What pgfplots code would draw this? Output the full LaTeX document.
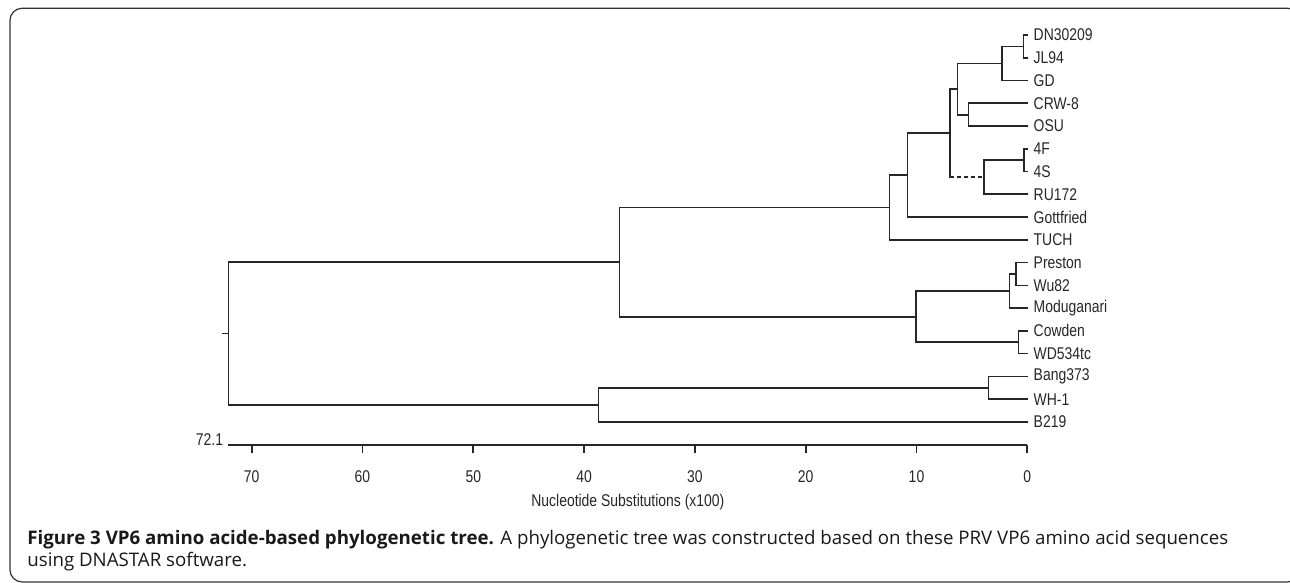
\documentclass[border=0pt]{standalone}
\usepackage{fontspec}
\usepackage{pgfplots}
\pgfplotsset{compat=1.18}
\setmainfont{Open Sans}
\newfontfamily\narrow[FakeStretch=0.82]{Liberation Sans}
\newcommand\nf{\narrow\fontsize{8.5}{9}\selectfont}
\pgfplotsset{tree/.style={black!85, line width=0.85pt, mark=none, line join=miter, line cap=rect}}
\begin{document}
\begin{tikzpicture}
\begin{axis}[
  x=5.54pt, y=11.38pt,
  x dir=reverse,
  xmin=0, xmax=72.1, ymin=-19, ymax=-1,
  axis x line=bottom, axis y line=none,
  x axis line style={-, black!85, line width=0.85pt},
  xtick={0,10,...,70},
  major tick length=4.35pt,
  tick align=outside,
  tick style={black!85, line width=0.85pt},
  xticklabel style={font=\nf, anchor=base, yshift=-14.5pt, black!85},
  /pgf/number format/assume math mode=true,
  clip=false,
]
% leaf pairs and internal nodes
\addplot[tree] coordinates {(0,-1) (0.35,-1) (0.35,-2) (0,-2)};
\addplot[tree] coordinates {(0.35,-1.5) (2.3,-1.5) (2.3,-3) (0,-3)};
\addplot[tree] coordinates {(0,-4) (5.3,-4) (5.3,-5) (0,-5)};
\addplot[tree] coordinates {(2.3,-2.25) (6.3,-2.25) (6.3,-4.5) (5.3,-4.5)};
\addplot[tree] coordinates {(0,-6) (0.3,-6) (0.3,-7) (0,-7)};
\addplot[tree] coordinates {(0.3,-6.5) (3.9,-6.5) (3.9,-8) (0,-8)};
\addplot[tree] coordinates {(6.3,-3.375) (7.0,-3.375) (7.0,-7.25)};
\addplot[tree, line cap=butt, dash pattern=on 2pt off 1.5pt] coordinates {(7.0,-7.25) (3.9,-7.25)};
\addplot[tree] coordinates {(7.0,-5.3125) (10.8,-5.3125) (10.8,-9) (0,-9)};
\addplot[tree] coordinates {(10.8,-7.156) (12.45,-7.156) (12.45,-10) (0,-10)};
\addplot[tree] coordinates {(0,-11) (1.0,-11) (1.0,-12) (0,-12)};
\addplot[tree] coordinates {(1.0,-11.5) (1.6,-11.5) (1.6,-13) (0,-13)};
\addplot[tree] coordinates {(0,-14) (0.8,-14) (0.8,-15) (0,-15)};
\addplot[tree] coordinates {(1.6,-12.25) (10.05,-12.25) (10.05,-14.5) (0.8,-14.5)};
\addplot[tree] coordinates {(12.45,-8.578) (36.8,-8.578) (36.8,-13.375) (10.05,-13.375)};
\addplot[tree] coordinates {(0,-16) (3.5,-16) (3.5,-17) (0,-17)};
\addplot[tree] coordinates {(3.5,-16.5) (38.7,-16.5) (38.7,-18) (0,-18)};
\addplot[tree] coordinates {(36.8,-10.977) (72.1,-10.977) (72.1,-17.25) (38.7,-17.25)};
\addplot[tree] coordinates {(72.6,-14.11) (72.1,-14.11)};
% leaf labels
\addplot[draw=none, mark=none, nodes near coords, point meta=explicit symbolic,
  every node near coord/.append style={anchor=west, font=\nf, xshift=3pt, inner sep=0pt, black!85}]
  table[meta=label, row sep=\\] {
  x y label\\
  0 -1 DN30209\\
  0 -2 JL94\\
  0 -3 GD\\
  0 -4 CRW-8\\
  0 -5 OSU\\
  0 -6 4F\\
  0 -7 4S\\
  0 -8 RU172\\
  0 -9 Gottfried\\
  0 -10 TUCH\\
  0 -11 Preston\\
  0 -12 Wu82\\
  0 -13 Moduganari\\
  0 -14 Cowden\\
  0 -15 WD534tc\\
  0 -16 Bang373\\
  0 -17 WH-1\\
  0 -18 B219\\
};
\node[font=\nf, anchor=base east, inner sep=0pt, black!85] at (axis cs:72.1,-19) [xshift=-2.5pt, yshift=-0.6pt] {72.1};
\node[font=\nf, anchor=base, inner sep=0pt, black!85] at (axis cs:36.05,-21.72) {Nucleotide Substitutions (x100)};
% figure frame and caption
\draw[black!80, line width=0.6pt, rounded corners=6pt] (axis cs:91.814,0.1731) rectangle (axis cs:-24.612,-25.03);
\node[anchor=base west, inner sep=0pt, font=\fontsize{9.35}{10}\selectfont, black!90] at (axis cs:90.28,-23.40)
  {\textbf{Figure 3 VP6 amino acide-based phylogenetic tree.} A phylogenetic tree was constructed based on these PRV VP6 amino acid sequences};
\node[anchor=base west, inner sep=0pt, font=\fontsize{9.35}{10}\selectfont, black!90] at (axis cs:90.28,-24.35)
  {using DNASTAR software.};
\coordinate (BBtl) at (axis cs:92.717,0.5378);
\coordinate (BBbr) at (axis cs:-23.709,-25.077);
\end{axis}
\pgfresetboundingbox
\useasboundingbox (BBtl) rectangle (BBbr);
\end{tikzpicture}
\end{document}
